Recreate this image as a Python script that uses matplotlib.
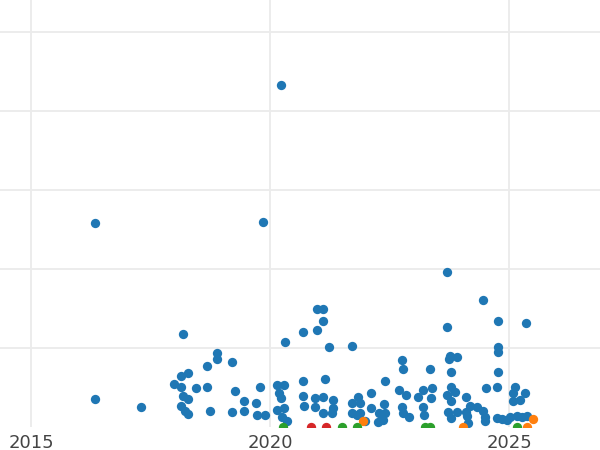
import matplotlib
matplotlib.use("Agg")
import matplotlib.pyplot as plt

# blue series: (year, value)
blue_year = [
    2016.34, 2020.23, 2019.85, 2023.70, 2024.46, 2018.18, 2024.77, 2025.36, 2023.70, 2020.98,
    2021.11, 2021.11, 2020.69, 2020.98, 2020.31, 2021.23, 2021.72, 2024.77, 2024.77, 2016.34,
    2017.30, 2018.89, 2018.89, 2018.68, 2019.21, 2018.28, 2018.14, 2017.99, 2018.14, 2018.45,
    2018.68, 2019.27, 2019.79, 2020.15, 2020.29, 2020.19, 2020.23, 2018.18, 2018.28, 2018.14,
    2018.22, 2018.28, 2018.74, 2019.21, 2019.46, 2019.46, 2019.71, 2019.73, 2019.90, 2020.15,
    2020.29, 2020.25, 2020.36, 2020.69, 2021.15, 2020.69, 2020.71, 2020.94, 2021.11, 2021.32,
    2020.94, 2021.11, 2021.30, 2021.32, 2021.72, 2021.84, 2021.88, 2021.72, 2021.82, 2022.11,
    2022.11, 2022.41, 2022.38, 2022.28, 2022.41, 2022.26, 2022.36, 2022.76, 2022.78, 2022.70,
    2022.85, 2022.76, 2022.78, 2022.91, 2023.10, 2023.20, 2023.39, 2023.35, 2023.37, 2023.20,
    2023.22, 2023.77, 2023.74, 2023.91, 2023.79, 2023.79, 2023.70, 2023.87, 2023.79, 2023.72,
    2023.79, 2023.91, 2024.10, 2024.10, 2024.12, 2024.18, 2024.33, 2024.46, 2024.50, 2024.50,
    2024.14, 2024.52, 2024.77, 2024.75, 2024.75, 2024.85, 2024.96, 2025.02, 2025.17, 2025.27,
    2025.38, 2025.08, 2025.13, 2025.23, 2025.33, 2025.08, 2021.88, 2021.99,
]
blue_val = [
    25.8, 43.3, 25.9, 19.6, 16.1, 11.8, 13.4, 13.2, 12.7, 14.9,
    14.9, 13.4, 12.0, 12.3, 10.8, 10.1, 10.3, 10.1, 9.5, 3.5,
    2.5, 9.4, 8.6, 7.7, 8.2, 6.8, 6.5, 5.4, 5.1, 4.9,
    5.1, 4.6, 5.1, 5.3, 5.3, 4.3, 3.7, 3.9, 3.5, 2.7,
    2.0, 1.6, 2.0, 1.9, 3.3, 2.0, 3.0, 1.5, 1.5, 2.2,
    2.4, 1.3, 0.8, 5.8, 6.1, 3.9, 2.7, 3.7, 3.8, 3.4,
    2.5, 1.8, 1.8, 2.4, 3.0, 3.8, 3.0, 1.8, 1.5, 4.3,
    2.4, 5.8, 2.9, 1.8, 1.8, 0.6, 0.9, 8.5, 7.3, 4.7,
    4.1, 2.5, 1.8, 1.3, 3.8, 4.7, 4.9, 7.3, 3.7, 2.5,
    1.5, 9.0, 8.6, 8.9, 7.0, 5.1, 4.1, 4.4, 3.3, 1.9,
    1.1, 1.9, 3.8, 1.9, 1.4, 2.7, 2.5, 2.0, 1.3, 0.8,
    0.5, 4.9, 7.0, 5.1, 1.1, 1.0, 0.9, 1.3, 1.4, 1.3,
    1.4, 4.3, 5.1, 3.4, 4.3, 3.3, 1.8, 0.8,
]

orange_year = [2021.95, 2024.04, 2025.38, 2025.50]
orange_val = [0.8, 0.0, 0.0, 1.0]

green_year = [2020.27, 2021.51, 2021.82, 2023.24, 2023.35, 2025.17]
green_val = [0.0, 0.0, 0.0, 0.0, 0.0, 0.0]

red_year = [2020.86, 2021.17]
red_val = [0.0, 0.0]

x_ticks = [2015, 2020, 2025]

fig = plt.figure(figsize=(6, 4.5), dpi=100)
ax = fig.add_axes([0, 23 / 450, 1, 427 / 450])

ax.scatter(blue_year, blue_val, s=45, color="#1f77b4", linewidths=0, zorder=3)
ax.scatter(orange_year, orange_val, s=45, color="#ff7f0e", linewidths=0, zorder=4)
ax.scatter(green_year, green_val, s=45, color="#2ca02c", linewidths=0, zorder=5)
ax.scatter(red_year, red_val, s=45, color="#d62728", linewidths=0, zorder=6)

ax.set_xlim(2015 - 31 / 47.8, 2015 + 569 / 47.8)
ax.set_ylim(0, 427 / 7.9)
ax.set_xticks(x_ticks)
ax.set_xticklabels([str(t) for t in x_ticks])
ax.set_yticks([10, 20, 30, 40, 50])
ax.set_yticklabels([])
ax.tick_params(length=0, labelsize=13, labelcolor="#444444", pad=5)
ax.grid(True, color="#ebebeb", linewidth=1.3, zorder=0)
ax.set_axisbelow(True)
for s in ax.spines.values():
    s.set_visible(False)

fig.savefig("out.png", dpi=100)
